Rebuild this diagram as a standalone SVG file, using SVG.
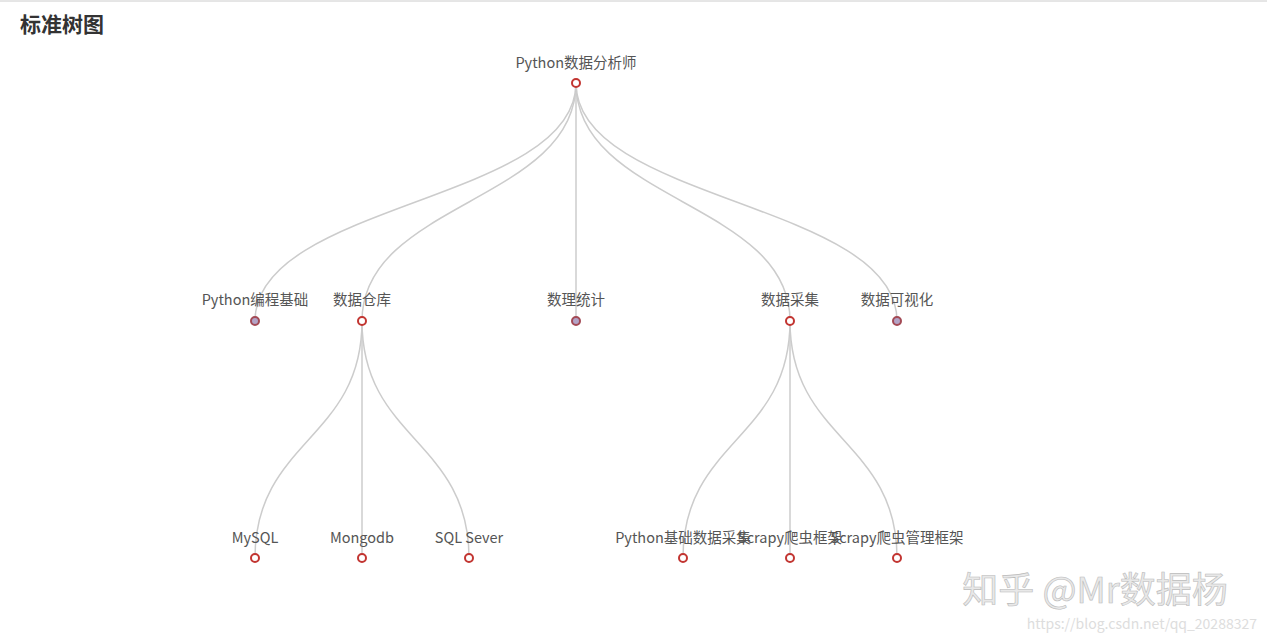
<svg xmlns="http://www.w3.org/2000/svg" width="1267" height="642" viewBox="0 0 1267 642">
<style>
.l{fill:none;stroke:#ccc;stroke-width:1.5}
.n{fill:#fff;stroke:#c23531;stroke-width:2}
.f{fill:#b3a3c6;stroke:#a34a55;stroke-width:2}
text{font-family:"Microsoft YaHei","Noto Sans CJK SC",sans-serif;font-size:14.5px;fill:#555;text-anchor:middle}
</style>
<rect width="1267" height="642" fill="#fff"/>
<line x1="0" y1="1" x2="1267" y2="1" stroke="#ccc"/>
<text x="20" y="32" style="font-size:21px;font-weight:bold;fill:#333;text-anchor:start">标准树图</text>
<g id="links">
<path class="l" d="M576,83 C576,202 255,202 255,321"/>
<path class="l" d="M576,83 C576,202 362,202 362,321"/>
<path class="l" d="M576,83 L576,321"/>
<path class="l" d="M576,83 C576,202 790,202 790,321"/>
<path class="l" d="M576,83 C576,202 897,202 897,321"/>
<path class="l" d="M362,321 C362,440 255,440 255,558"/>
<path class="l" d="M362,321 L362,558"/>
<path class="l" d="M362,321 C362,440 469,440 469,558"/>
<path class="l" d="M790,321 C790,440 683,440 683,558"/>
<path class="l" d="M790,321 L790,558"/>
<path class="l" d="M790,321 C790,440 897,440 897,558"/>
</g>
<g id="root"><circle class="n" cx="576" cy="83" r="4"/><text x="576" y="68">Python数据分析师</text></g>
<g id="n1"><circle class="f" cx="255" cy="321" r="4"/><text x="255" y="305">Python编程基础</text></g>
<g id="n2"><circle class="n" cx="362" cy="321" r="4"/><text x="362" y="305">数据仓库</text></g>
<g id="n3"><circle class="f" cx="576" cy="321" r="4"/><text x="576" y="305">数理统计</text></g>
<g id="n4"><circle class="n" cx="790" cy="321" r="4"/><text x="790" y="305">数据采集</text></g>
<g id="n5"><circle class="f" cx="897" cy="321" r="4"/><text x="897" y="305">数据可视化</text></g>
<g id="n6"><circle class="n" cx="255" cy="558" r="4"/><text x="255" y="543">MySQL</text></g>
<g id="n7"><circle class="n" cx="362" cy="558" r="4"/><text x="362" y="543">Mongodb</text></g>
<g id="n8"><circle class="n" cx="469" cy="558" r="4"/><text x="469" y="543">SQL Sever</text></g>
<g id="n9"><circle class="n" cx="683" cy="558" r="4"/><text x="683" y="543">Python基础数据采集</text></g>
<g id="n10"><circle class="n" cx="790" cy="558" r="4"/><text x="790" y="543">Scrapy爬虫框架</text></g>
<g id="n11"><circle class="n" cx="897" cy="558" r="4"/><text x="897" y="543">Scrapy爬虫管理框架</text></g>
<text x="1095" y="603" style="font-size:36px;fill:#e8e8e8;stroke:#bbb;stroke-width:0.6">知乎 @Mr数据杨</text>
<text x="1257" y="629" style="font-size:14px;fill:#ddd;text-anchor:end">https://blog.csdn.net/qq_20288327</text>
</svg>
